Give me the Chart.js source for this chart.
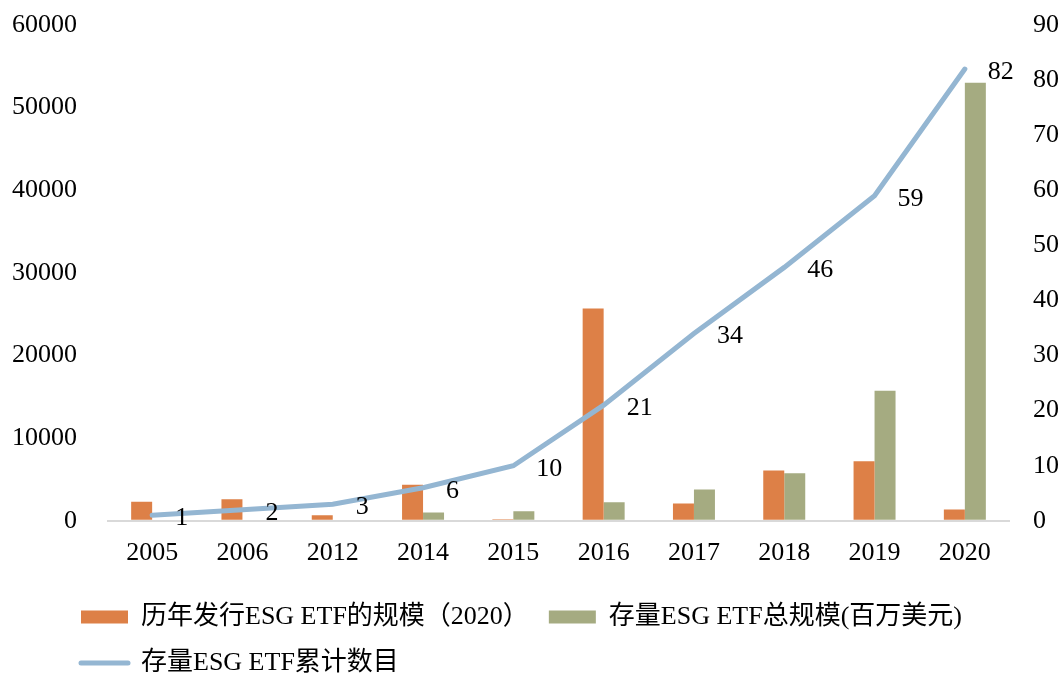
<!DOCTYPE html>
<html>
<head>
<meta charset="utf-8">
<script src="https://cdn.jsdelivr.net/npm/chart.js@4.4.1/dist/chart.umd.min.js"></script>
<style>
  body { margin: 0; background: #fff; }
  #wrap { width: 1062px; height: 673px; position: relative; }
</style>
</head>
<body>
<div id="wrap"><canvas id="esg_chart"></canvas></div>
<script>
var years = ["2005", "2006", "2012", "2014", "2015", "2016", "2017", "2018", "2019", "2020"];
var issuedSize = [2300, 2600, 660, 4360, 200, 25700, 2100, 6100, 7200, 1380];
var totalSize = [0, 0, 0, 990, 1150, 2230, 3800, 5750, 15750, 53000];
var etfCount = [1, 2, 3, 6, 10, 21, 34, 46, 59, 82];
var leftTicks = [0, 10000, 20000, 30000, 40000, 50000, 60000];
var rightTicks = [0, 10, 20, 30, 40, 50, 60, 70, 80, 90];

var FONT = "'Liberation Serif', 'Noto Sans CJK SC', serif";

// labels next to the line points
var countLabels = {
    id: 'countLabels',
    afterDatasetsDraw: function (chart) {
        var meta = chart.getDatasetMeta(2);
        var ctx = chart.ctx;
        ctx.save();
        ctx.font = "26px " + FONT;
        ctx.fillStyle = '#000';
        ctx.textAlign = 'left';
        ctx.textBaseline = 'middle';
        meta.data.forEach(function (pt, i) {
            ctx.fillText(String(etfCount[i]), pt.x + 23, pt.y + 3);
        });
        ctx.restore();
    }
};

// move the legend under the plot, left aligned like the original
var legendShift = {
    id: 'legendShift',
    afterLayout: function (chart) {
        chart.legend.left += 79;
        chart.legend.right += 79;
        chart.legend.top += 6;
        chart.legend.bottom += 6;
    }
};

// tick padding should not push the plot down from the top
function trimPadding(axis) {
    axis.paddingTop = 15;
    axis.paddingBottom = 0;
}

var ctx = document.getElementById('esg_chart').getContext('2d');

var chart = new Chart(ctx, {
    type: 'bar',
    data: {
        labels: years,
        datasets: [{
            label: '历年发行ESG ETF的规模（2020）',
            data: issuedSize,
            backgroundColor: '#dd8047',
            yAxisID: 'y',
            order: 1
        }, {
            label: '存量ESG ETF总规模(百万美元)',
            data: totalSize,
            backgroundColor: '#a5ab81',
            yAxisID: 'y',
            order: 2
        }, {
            type: 'line',
            label: '存量ESG ETF累计数目',
            data: etfCount,
            borderColor: '#94b6d2',
            backgroundColor: '#94b6d2',
            borderWidth: 5,
            pointRadius: 0,
            tension: 0,
            borderCapStyle: 'round',
            yAxisID: 'y1',
            order: 0
        }]
    },
    options: {
        responsive: true,
        maintainAspectRatio: false,
        animation: false,
        layout: {
            padding: { top: 25, left: -18, right: -20, bottom: -7 }
        },
        datasets: {
            bar: { categoryPercentage: 0.465, barPercentage: 1 }
        },
        scales: {
            x: {
                grid: { display: false },
                border: { display: false },
                ticks: {
                    color: '#000',
                    padding: 9,
                    maxRotation: 0,
                    font: { family: FONT, size: 26 }
                }
            },
            y: {
                position: 'left',
                min: 0,
                max: 60000,
                afterBuildTicks: function (axis) {
                    axis.ticks = leftTicks.map(function (v) { return { value: v }; });
                },
                afterFit: trimPadding,
                grid: {
                    drawTicks: false,
                    lineWidth: 2,
                    color: function (c) { return c.tick && c.tick.value === 0 ? '#d9d9d9' : 'rgba(0,0,0,0)'; }
                },
                border: { display: false },
                ticks: {
                    color: '#000',
                    padding: 30,
                    font: { family: FONT, size: 26 },
                    callback: function (v) { return String(v); }
                }
            },
            y1: {
                position: 'right',
                min: 0,
                max: 90,
                afterBuildTicks: function (axis) {
                    axis.ticks = rightTicks.map(function (v) { return { value: v }; });
                },
                afterFit: trimPadding,
                grid: { display: false, drawTicks: false },
                border: { display: false },
                ticks: {
                    color: '#000',
                    padding: 23,
                    font: { family: FONT, size: 26 },
                    callback: function (v) { return String(v); }
                }
            }
        },
        plugins: {
            tooltip: { enabled: false },
            legend: {
                position: 'bottom',
                align: 'start',
                labels: {
                    usePointStyle: true,
                    pointStyleWidth: 47,
                    boxHeight: 13,
                    padding: 20,
                    color: '#000',
                    font: { family: FONT, size: 26 },
                    sort: function (a, b) { return a.datasetIndex - b.datasetIndex; },
                    generateLabels: function (chart) {
                        var items = Chart.defaults.plugins.legend.labels.generateLabels(chart);
                        items.forEach(function (it) {
                            var ds = chart.data.datasets[it.datasetIndex];
                            if (ds.type === 'line') {
                                it.pointStyle = 'line';
                                it.strokeStyle = '#94b6d2';
                                it.lineWidth = 5;
                                it.lineCap = 'round';
                            } else {
                                it.pointStyle = 'rect';
                                it.lineWidth = 0;
                            }
                        });
                        return items;
                    }
                }
            }
        }
    },
    plugins: [countLabels, legendShift]
});
</script>
</body>
</html>
